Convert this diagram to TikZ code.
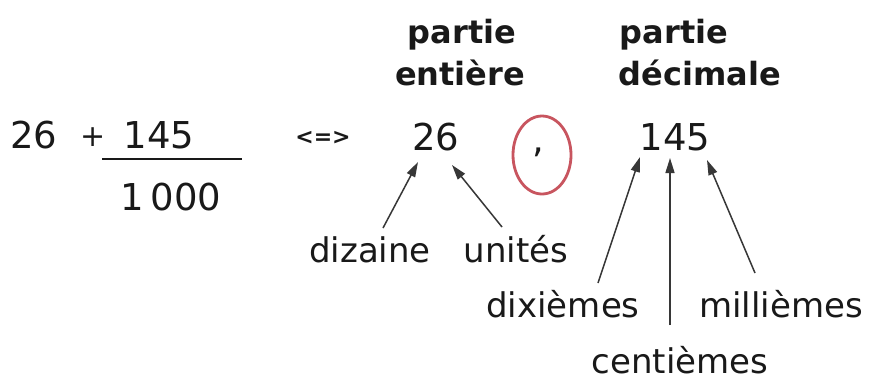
\documentclass[tikz,border=0pt]{standalone}
\usepackage{fontspec}
\setmainfont{DejaVu Sans}
\usetikzlibrary{arrows.meta,shapes.geometric}
\definecolor{ink}{RGB}{25,25,25}
\definecolor{arrowgray}{RGB}{55,55,55}
\definecolor{ringred}{RGB}{200,85,95}
\tikzset{arr/.style={draw=arrowgray, line width=1.5pt, arrows={-Triangle[length=15pt,width=9pt]}}}
\begin{document}
\begin{tikzpicture}[x=1pt,y=-1pt,
  num/.style={font=\fontsize{37}{40}\selectfont, text=ink, inner sep=0pt, anchor=base},
  lbl/.style={font=\fontsize{34}{38}\selectfont, text=ink, inner sep=0pt, anchor=base},
  head/.style={font=\fontsize{32}{36}\selectfont\bfseries, text=ink, inner sep=0pt, anchor=base},
  ring/.style={ellipse, draw=ringred, line width=2.8pt, minimum width=58pt, minimum height=78pt, inner sep=0pt}]
\useasboundingbox (0,0) rectangle (872,381);
\fill[white] (0,0) rectangle (872,381);
% left expression
\node[num] (a26) at (34,148) {26};
\node[num, font=\fontsize{30}{34}\selectfont] (plus) at (93,146) {+};
\node[num] (a145) at (159,148) {145};
\coordinate (fl) at (102,159);
\coordinate (fr) at (242,159);
\draw[ink, line width=1.5pt] (fl) -- (fr);
\node[num] (a1000) at (171,210) {1\,000};
\node[font=\fontsize{22}{24}\selectfont\bfseries, text=ink, inner sep=0pt] (equiv) at (323,138) {<=>};
% right expression
\node[num] (b26) at (436,150) {26};
\node[ring] (ringc) at (542,155) {};
\node[num] (comma) at (538,152) {,};
\node[num] (b145) at (675,150) {145};
% headers
\node[head] (p1) at (462,43) {partie};
\node[head] (e1) at (460,85) {entière};
\node[head] (p2) at (674,43) {partie};
\node[head] (d2) at (700,85) {décimale};
% labels
\node[lbl] (diz) at (370,262) {dizaine};
\node[lbl] (uni) at (516,262) {unités};
\node[lbl] (dix) at (563,317) {dixièmes};
\node[lbl] (mil) at (781,317) {millièmes};
\node[lbl] (cen) at (680,373) {centièmes};
% arrow ends
\coordinate (t1) at (383,228); \coordinate (h1) at (418,162);
\coordinate (t2) at (502,227); \coordinate (h2) at (452,165);
\coordinate (t3) at (598,283); \coordinate (h3) at (640,157);
\coordinate (t4) at (670,325); \coordinate (h4) at (670,158);
\coordinate (t5) at (755,273); \coordinate (h5) at (707,160);
\draw[arr] (t1) -- (h1);
\draw[arr] (t2) -- (h2);
\draw[arr] (t3) -- (h3);
\draw[arr] (t4) -- (h4);
\draw[arr] (t5) -- (h5);
\end{tikzpicture}
\end{document}
